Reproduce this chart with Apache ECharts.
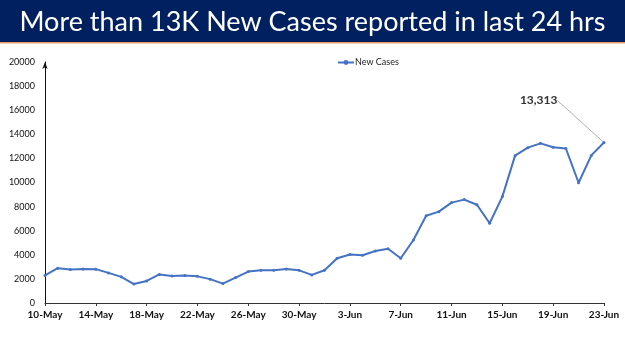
<!DOCTYPE html>
<html>
<head>
<meta charset="utf-8">
<script src="https://cdn.jsdelivr.net/npm/echarts@6/dist/echarts.min.js"></script>
<style>
  html, body { margin: 0; padding: 0; background: #fff; }
  #chart { width: 625px; height: 351px; }
</style>
</head>
<body>
<div id="chart"></div>
<script>
// dates 10-May .. 23-Jun
const mayDays = ['10-May', '11-May', '12-May', '13-May', '14-May', '15-May', '16-May', '17-May', '18-May', '19-May', '20-May',
  '21-May', '22-May', '23-May', '24-May', '25-May', '26-May', '27-May', '28-May', '29-May', '30-May', '31-May'];
const junDays = ['1-Jun', '2-Jun', '3-Jun', '4-Jun', '5-Jun', '6-Jun', '7-Jun', '8-Jun', '9-Jun', '10-Jun', '11-Jun', '12-Jun',
  '13-Jun', '14-Jun', '15-Jun', '16-Jun', '17-Jun', '18-Jun', '19-Jun', '20-Jun', '21-Jun', '22-Jun', '23-Jun'];
const categories = mayDays.concat(junDays);

const newCases = [2290, 2890, 2790, 2830, 2810, 2500, 2170, 1570, 1830, 2370, 2250,
  2280, 2210, 1980, 1610, 2110, 2610, 2710, 2720, 2830, 2710, 2330,
  2720, 3720, 4030, 3960, 4310, 4500, 3710, 5230, 7240, 7580, 8330, 8580,
  8150, 6620, 8830, 12230, 12890, 13250, 12920, 12820, 9980, 12250, 13313];

const yTicks = { min: 0, max: 20000, interval: 2000 };
const titleText = 'More than 13K New Cases reported in last 24 hrs';

const chart = echarts.init(document.getElementById('chart'));
const lastIdx = newCases.length - 1;

// only the latest point carries the callout label
const seriesData = newCases.map((v, i) => i === lastIdx
  ? { value: v, label: { show: true }, labelLine: { show: true } }
  : v);

const option = {
  animation: false,
  textStyle: { fontFamily: 'Lato' },
  graphic: [
    { type: 'rect', left: 0, top: 0, shape: { width: 625, height: 42 }, style: { fill: '#002060' }, z: 0 },
    { type: 'rect', left: 0, top: 42, shape: { width: 625, height: 1.5 }, style: { fill: '#e99b6a' }, z: 0 }
  ],
  title: {
    text: titleText,
    left: 'center',
    top: 4,
    textStyle: { color: '#ffffff', fontSize: 27, fontWeight: 'normal', fontFamily: 'Lato' }
  },
  legend: {
    top: 53,
    left: 332,
    itemWidth: 16,
    itemHeight: 6,
    itemGap: 4,
    textStyle: { fontSize: 9, color: '#222', fontFamily: 'Lato', padding: [0, 0, 0, -4] },
    data: ['New Cases']
  },
  grid: { left: 45, right: 21, top: 62, bottom: 48 },
  xAxis: {
    type: 'category',
    data: categories,
    boundaryGap: false,
    axisLine: { lineStyle: { color: '#333', width: 1 } },
    axisTick: { interval: 3, length: 3, lineStyle: { color: '#333' } },
    axisLabel: { interval: 3, fontSize: 10, fontWeight: 'bold', color: '#111', margin: 7 }
  },
  yAxis: {
    type: 'value',
    min: yTicks.min,
    max: yTicks.max,
    interval: yTicks.interval,
    axisLine: { show: true, symbol: ['none', 'arrow'], symbolSize: [4, 7], lineStyle: { color: '#111', width: 1 } },
    axisTick: { show: false },
    splitLine: { show: false },
    axisLabel: { fontSize: 9, color: '#111', margin: 10, formatter: (v) => String(v) }
  },
  series: [{
    name: 'New Cases',
    type: 'line',
    data: seriesData,
    symbol: 'circle',
    symbolSize: 3,
    itemStyle: { color: '#4472c4' },
    lineStyle: { color: '#4472c4', width: 2 },
    label: {
      show: false,
      position: 'left',
      fontSize: 12,
      fontWeight: 'bold',
      color: '#333',
      formatter: (p) => Number(p.value).toLocaleString('en-US')
    },
    labelLayout: (p) => p.dataIndex === lastIdx ? { dx: -40, dy: -42 } : {},
    labelLine: { show: false, lineStyle: { color: '#b0b0b0', width: 1 } }
  }]
};
chart.setOption(option);
</script>
</body>
</html>
